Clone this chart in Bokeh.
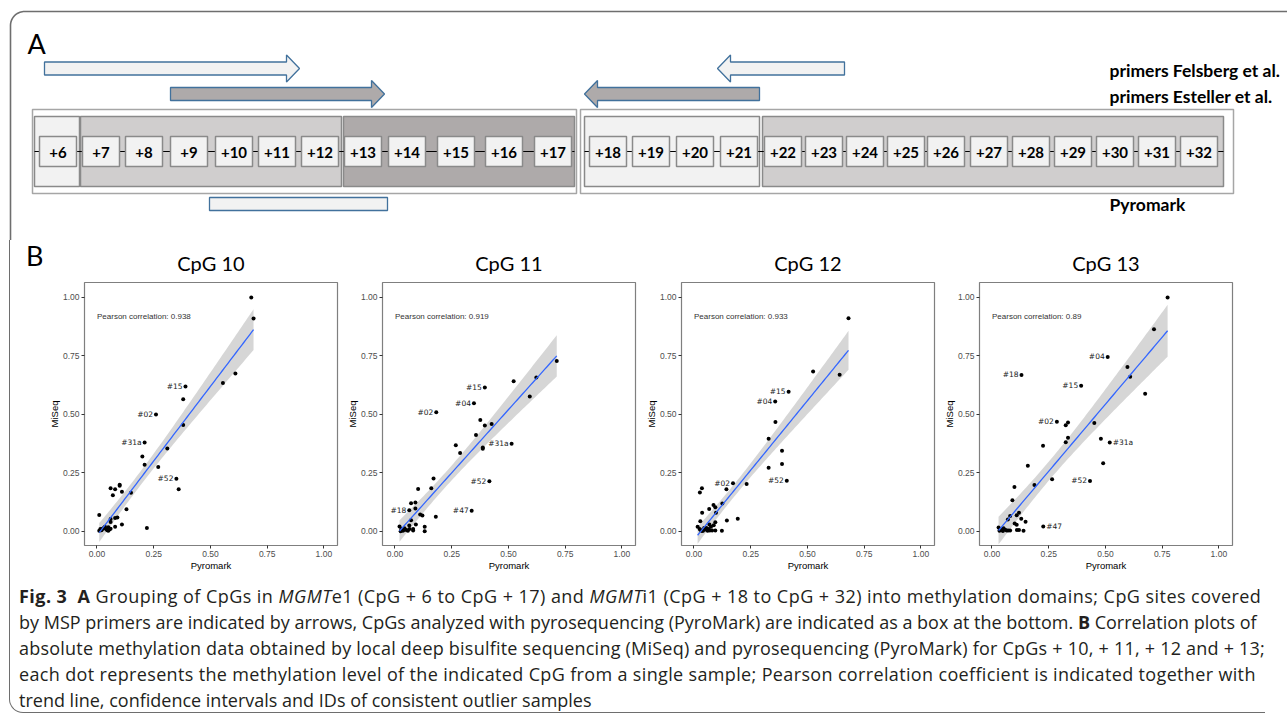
import numpy as np
from bokeh.plotting import figure
from bokeh.models import Range1d, FixedTicker, Div
from bokeh.layouts import column, row
from bokeh.embed import file_html
from bokeh.resources import INLINE
from bokeh.core.properties import value

# ---------------- Panel A data ----------------
cpg_labels = ["+6", "+7", "+8", "+9", "+10", "+11", "+12", "+13", "+14", "+15", "+16", "+17",
              "+18", "+19", "+20", "+21", "+22", "+23", "+24", "+25", "+26", "+27", "+28",
              "+29", "+30", "+31", "+32"]
domain_first = ["+6", "+7", "+13", "+18", "+22"]
domain_last = ["+6", "+12", "+17", "+21", "+32"]
domain_shade = ["light", "mid", "dark", "light", "mid"]
primer_names = ["primers Felsberg et al.", "primers Esteller et al."]
primer_fwd_span = [("+6", "+12"), ("+10", "+14")]
primer_rev_span = [("+20", "+22"), ("+18", "+21")]
pyromark_label = "Pyromark"

# schematic layout (pixels)
cpg_box_left = [39, 82, 125, 170, 215, 258, 301, 344, 388, 437, 485, 534,
                589, 632, 676, 720, 764, 805, 846, 887, 927, 970, 1012, 1054, 1096, 1138, 1180]
BOX_W = 37
domain_extent = [(34, 79), (80, 341), (343, 574), (584, 759), (762, 1223)]
group_extent = [(32, 576), (580, 1233)]
fwd_arrow_x = [(44, 299), (170, 384)]
rev_arrow_x = [(844, 717), (759, 584)]
arrow_y = [68, 93.5]
pyro_box_x = (209, 387)
shade_color = {"light": "#f2f2f2", "mid": "#d0cece", "dark": "#aeaaaa"}
arrow_fill = ["#f2f2f2", "#aeaaaa"]

# ---------------- Panel B data ----------------
titles = ["CpG 10", "CpG 11", "CpG 12", "CpG 13"]
pearson = ["0.938", "0.919", "0.933", "0.89"]
tick_vals = [0.0, 0.25, 0.5, 0.75, 1.0]
tick_labels = ["0.00", "0.25", "0.50", "0.75", "1.00"]
x_label = "Pyromark"
y_label = "MiSeq"

pyro10 = [0.68, 0.69, 0.61, 0.555, 0.39, 0.38, 0.38, 0.26, 0.21, 0.31, 0.20, 0.21, 0.27, 0.35, 0.36,
          0.15, 0.10, 0.10, 0.11, 0.06, 0.08, 0.07, 0.13, 0.01, 0.09, 0.08, 0.06, 0.06, 0.11, 0.08, 0.22,
          0.015, 0.02, 0.03, 0.035, 0.04, 0.045, 0.05, 0.055, 0.06, 0.025, 0.05, 0.01]
miseq10 = [1.00, 0.91, 0.675, 0.635, 0.62, 0.565, 0.455, 0.50, 0.38, 0.355, 0.32, 0.285, 0.275, 0.225, 0.18,
           0.165, 0.20, 0.195, 0.17, 0.185, 0.18, 0.155, 0.095, 0.07, 0.06, 0.057, 0.053, 0.04, 0.03, 0.02, 0.015,
           0.01, 0.005, 0.015, 0.02, 0.01, 0.005, 0.018, 0.008, 0.012, 0.012, 0.003, 0.003]
ids10 = ["", "", "", "", "#15", "", "", "#02", "#31a", "", "", "", "", "#52", ""] + [""] * 28

pyro11 = [0.713, 0.623, 0.523, 0.594, 0.396, 0.348, 0.182, 0.376, 0.396, 0.426, 0.357, 0.268, 0.287,
          0.387, 0.387, 0.514, 0.416, 0.338, 0.170, 0.16, 0.102, 0.071, 0.09, 0.09, 0.063, 0.111, 0.121,
          0.18, 0.092, 0.131, 0.131, 0.071, 0.063, 0.08, 0.08,
          0.02, 0.028, 0.035, 0.042, 0.05, 0.057, 0.025, 0.038, 0.064]
miseq11 = [0.729, 0.658, 0.642, 0.577, 0.615, 0.548, 0.51, 0.476, 0.453, 0.459, 0.412, 0.368, 0.335,
           0.359, 0.353, 0.375, 0.215, 0.088, 0.226, 0.185, 0.181, 0.121, 0.124, 0.098, 0.091, 0.073, 0.068,
           0.063, 0.03, 0.02, 0.001, 0.048, 0.026, 0.01, 0.004,
           0.021, 0.01, 0.003, 0.014, 0.006, 0.003, 0.001, 0.006, 0.011]
ids11 = ["", "", "", "", "#15", "#04", "#02", "", "", "", "", "", "", "", "", "#31a", "#52", "#47",
         "", "", "", "", "", "", "#18"] + [""] * 19

pyro12 = [0.681, 0.525, 0.642, 0.417, 0.358, 0.359, 0.329, 0.388, 0.388, 0.329, 0.409, 0.232, 0.172,
          0.143, 0.125, 0.086, 0.094, 0.067, 0.035, 0.026, 0.036, 0.097, 0.193, 0.145, 0.028, 0.094,
          0.087, 0.123, 0.094, 0.016, 0.068,
          0.025, 0.03, 0.04, 0.05, 0.055, 0.06, 0.065, 0.07, 0.075, 0.08, 0.045, 0.035]
miseq12 = [0.911, 0.684, 0.67, 0.597, 0.555, 0.468, 0.396, 0.345, 0.288, 0.272, 0.217, 0.203, 0.206,
           0.18, 0.12, 0.113, 0.103, 0.096, 0.185, 0.167, 0.08, 0.08, 0.054, 0.047, 0.044, 0.039,
           0.027, 0.003, 0.004, 0.02, 0.03,
           0.01, 0.005, 0.003, 0.008, 0.015, 0.003, 0.01, 0.004, 0.02, 0.004, 0.015, 0.002]
ids12 = ["", "", "", "#15", "#04", "", "", "", "", "", "#52", "", "#02"] + [""] * 30

pyro13 = [0.774, 0.714, 0.51, 0.597, 0.609, 0.675, 0.13, 0.393, 0.286, 0.325, 0.335, 0.451, 0.48,
          0.335, 0.325, 0.519, 0.225, 0.49, 0.158, 0.432, 0.265, 0.187, 0.099, 0.09, 0.226, 0.08,
          0.119, 0.109, 0.129, 0.148, 0.10, 0.109, 0.11, 0.119, 0.139, 0.07,
          0.029, 0.036, 0.043, 0.051, 0.058, 0.065, 0.072, 0.08, 0.033, 0.048]
miseq13 = [1.0, 0.864, 0.746, 0.703, 0.661, 0.589, 0.669, 0.623, 0.469, 0.454, 0.466, 0.464, 0.396,
           0.40, 0.381, 0.38, 0.366, 0.291, 0.281, 0.216, 0.223, 0.199, 0.19, 0.133, 0.021, 0.066,
           0.08, 0.069, 0.054, 0.041, 0.034, 0.029, 0.006, 0.006, 0.003, 0.051,
           0.017, 0.01, 0.006, 0.014, 0.007, 0.004, 0.004, 0.004, 0.003, 0.002]
ids13 = ["", "", "#04", "", "", "", "#18", "#15", "#02", "", "", "", "", "", "", "#31a", "", "", "",
         "#52", "", "", "", "", "#47"] + [""] * 21
ids_right_of_point = [[], [], [], ["#31a", "#47"]]

panels = [(pyro10, miseq10, ids10), (pyro11, miseq11, ids11),
          (pyro12, miseq12, ids12), (pyro13, miseq13, ids13)]

caption_lines = [
    '<b>Fig. 3</b>&nbsp;&nbsp;<b>A</b> Grouping of CpGs in <i>MGMT</i>e1 (CpG + 6 to CpG + 17) and '
    '<i>MGMT</i>i1 (CpG + 18 to CpG + 32) into methylation domains; CpG sites covered',
    'by MSP primers are indicated by arrows, CpGs analyzed with pyrosequencing (PyroMark) are indicated '
    'as a box at the bottom. <b>B</b> Correlation plots of',
    'absolute methylation data obtained by local deep bisulfite sequencing (MiSeq) and pyrosequencing '
    '(PyroMark) for CpGs + 10, + 11, + 12 and + 13;',
    'each dot represents the methylation level of the indicated CpG from a single sample; Pearson '
    'correlation coefficient is indicated together with',
    'trend line, confidence intervals and IDs of consistent outlier samples',
]
caption_letter_spacing = [0.45, 0.0, 0.22, 0.35, 0.0]

BORDER_COL = "#6e6e6e"
W = 1287

# ---------------- Panel A figure ----------------
HA = 240
pa = figure(width=W, height=HA, x_range=Range1d(0, W), y_range=Range1d(HA, 0),
            output_backend="svg", toolbar_location=None, x_axis_type=None, y_axis_type=None,
            min_border=0, outline_line_color=None, background_fill_color="white",
            border_fill_color="white")
pa.grid.visible = False

# outer rounded border (top and left)
r = 14
th = np.linspace(np.pi, 1.5 * np.pi, 20)
bx = [10] + list(10 + r + r * np.cos(th)) + [W]
by = [HA] + list(11 + r + r * np.sin(th)) + [11]
pa.line(bx, by, line_color=BORDER_COL, line_width=1.6)

pa.text([27], [43], text=["A"], text_font=value("Lato"), text_font_size="27px",
        text_baseline="middle", text_align="left", text_color="black")

# outer group boxes
pa.quad(left=[g[0] for g in group_extent], right=[g[1] for g in group_extent],
        top=[109] * 2, bottom=[193] * 2, fill_color="white", line_color="#a6a6a6", line_width=1.5)
# domain boxes
pa.quad(left=[d[0] for d in domain_extent], right=[d[1] for d in domain_extent],
        top=[116] * len(domain_extent), bottom=[186] * len(domain_extent),
        fill_color=[shade_color[s] for s in domain_shade], line_color="#8a8a8a", line_width=1.5)
# connecting line inside each group
for (a, b) in [(domain_extent[0][0], domain_extent[2][1]), (domain_extent[3][0], domain_extent[4][1])]:
    pa.line([a, b], [151, 151], line_color="black", line_width=1.2)
# CpG boxes
lefts = np.array(cpg_box_left, dtype=float)
pa.quad(left=lefts, right=lefts + BOX_W, top=[136] * len(lefts), bottom=[166] * len(lefts),
        fill_color="#f2f2f2", line_color="#8a8a8a", line_width=1.5)
pa.text(lefts + BOX_W / 2, [151.5] * len(lefts), text=cpg_labels, text_font=value("Lato"),
        text_font_size="15px", text_font_style="bold", text_align="center",
        text_baseline="middle", text_color="black")


def arrow_poly(x0, x1, yc, bh=6.5, hh=13.5, hl=13):
    d = 1 if x1 > x0 else -1
    xb = x1 - d * hl
    return ([x0, xb, xb, x1, xb, xb, x0],
            [yc - bh, yc - bh, yc - hh, yc, yc + hh, yc + bh, yc + bh])


axs, ays, afc = [], [], []
for i in range(2):
    for (x0, x1) in (fwd_arrow_x[i], rev_arrow_x[i]):
        xs_, ys_ = arrow_poly(x0, x1, arrow_y[i])
        axs.append(xs_)
        ays.append(ys_)
        afc.append(arrow_fill[i])
pa.patches(axs, ays, fill_color=afc, line_color="#41719c", line_width=1.3)

# pyromark box
pa.quad(left=[pyro_box_x[0]], right=[pyro_box_x[1]], top=[197], bottom=[210],
        fill_color="#f2f2f2", line_color="#41719c", line_width=1.3)

pa.text([1109, 1109, 1109], [70, 96, 204], text=primer_names + [pyromark_label],
        text_font=value("Lato"), text_font_size="17.5px", text_font_style="bold",
        text_align="left", text_baseline="middle", text_color="black")

# ---------------- Panel B row ----------------
TOP, FH, BOT = 42, 263, 30
HB = TOP + FH + BOT
frame_left = [84, 382, 681, 979]
FW = 253
SP_W = 42

sp = Div(text=('<div style="height:%dpx;margin-left:9px;border-left:1.6px solid %s;box-sizing:border-box;'
               'padding-left:16px;padding-top:2px;font-family:Lato,sans-serif;font-size:27px;'
               'line-height:27px;color:black;">B</div>') % (HB, BORDER_COL),
         width=SP_W, height=HB, margin=0)


def t975(df):
    z = 1.959964
    return z + (z ** 3 + z) / (4 * df) + (5 * z ** 5 + 16 * z ** 3 + 3 * z) / (96 * df ** 2)


figs = [sp]
for i, (xv, yv, ids) in enumerate(panels):
    left_b = (frame_left[0] - SP_W) if i == 0 else 40
    start = frame_left[i] - left_b
    end = (frame_left[i + 1] - 40) if i < 3 else W
    wid = end - start
    right_b = wid - left_b - FW
    p = figure(width=wid, height=HB, x_range=Range1d(-0.055, 1.06), y_range=Range1d(-0.06, 1.064),
               output_backend="svg", toolbar_location=None, min_border_left=left_b,
               min_border_right=right_b, min_border_top=TOP, min_border_bottom=BOT,
               title=titles[i], background_fill_color="white", border_fill_color="white")
    p.title.text_font = "Lato"
    p.title.text_font_size = "20px"
    p.title.text_font_style = "normal"
    p.title.align = "center"
    p.title.standoff = 16
    p.title.text_color = "black"
    p.grid.visible = False
    p.outline_line_color = "#7f7f7f"
    p.outline_line_width = 1.2
    for ax in (p.xaxis[0], p.yaxis[0]):
        ax.ticker = FixedTicker(ticks=tick_vals)
        ax.major_label_overrides = {v: l for v, l in zip(tick_vals, tick_labels)}
        ax.axis_line_color = None
        ax.minor_tick_line_color = None
        ax.major_tick_in = 0
        ax.major_tick_out = 3
        ax.major_tick_line_color = "#333333"
        ax.major_label_text_font = "Liberation Sans"
        ax.major_label_text_font_size = "8.5px"
        ax.major_label_text_color = "#4d4d4d"
        ax.major_label_standoff = 2
        ax.axis_label_text_font = "Liberation Sans"
        ax.axis_label_text_font_size = "9.5px"
        ax.axis_label_text_font_style = "normal"
        ax.axis_label_text_color = "black"
        ax.axis_label_standoff = 0
    p.xaxis.axis_label = x_label
    p.yaxis.axis_label = y_label

    x = np.array(xv, dtype=float)
    y = np.array(yv, dtype=float)
    n = len(x)
    slope, intercept = np.polyfit(x, y, 1)
    resid = y - (intercept + slope * x)
    s2 = np.sum(resid ** 2) / (n - 2)
    xm = x.mean()
    sxx = np.sum((x - xm) ** 2)
    xs = np.linspace(x.min(), x.max(), 80)
    yh = intercept + slope * xs
    se = np.sqrt(s2 * (1.0 / n + (xs - xm) ** 2 / sxx))
    tq = t975(n - 2)
    p.varea(x=xs, y1=yh - tq * se, y2=yh + tq * se, fill_color="#999999", fill_alpha=0.4)
    p.scatter(x, y, size=4, color="black", line_width=0)
    p.line(xs, yh, line_color="#3366FF", line_width=1.3)

    p.text([0.0], [0.92], text=["Pearson correlation: " + pearson[i]], text_font=value("Liberation Sans"),
           text_font_size="8px", text_color="#333333", text_baseline="middle", text_align="left")

    lx_l, ly_l, lt_l, lx_r, ly_r, lt_r = [], [], [], [], [], []
    for xx, yy, t in zip(x, y, ids):
        if not t:
            continue
        if t in ids_right_of_point[i]:
            lx_r.append(xx); ly_r.append(yy); lt_r.append(t)
        else:
            lx_l.append(xx); ly_l.append(yy); lt_l.append(t)
    p.text(lx_l, ly_l, text=lt_l, x_offset=-3, text_align="right", text_baseline="middle",
           text_font=value("DejaVu Sans"), text_font_size="7.5px", text_color="#222222")
    p.text(lx_r, ly_r, text=lt_r, x_offset=3, text_align="left", text_baseline="middle",
           text_font=value("DejaVu Sans"), text_font_size="7.5px", text_color="#222222")
    figs.append(p)

rowB = row(*figs, spacing=0)

# ---------------- Caption ----------------
HC = 713 - HA - HB
lines_html = "<br>".join(
    '<span style="letter-spacing:%.2fpx">%s</span>' % (ls, ln)
    for ln, ls in zip(caption_lines, caption_letter_spacing))
caption = (
    '<div style="margin-left:9px;height:%dpx;border-left:1.6px solid %s;border-bottom:1.6px solid %s;'
    'border-bottom-left-radius:14px;padding-left:9px;padding-top:8px;box-sizing:border-box;'
    'background:transparent;'
    'font-family:\'Open Sans\',sans-serif;font-size:18px;line-height:26px;color:#231f20;white-space:nowrap;">'
    '%s</div>'
) % (HC, BORDER_COL, BORDER_COL, lines_html)
cap = Div(text=caption, width=W, height=HC, margin=0, styles={"background": "transparent"})

layout = column(pa, rowB, cap, spacing=0)
open("out.html", "w").write(file_html(layout, INLINE))
